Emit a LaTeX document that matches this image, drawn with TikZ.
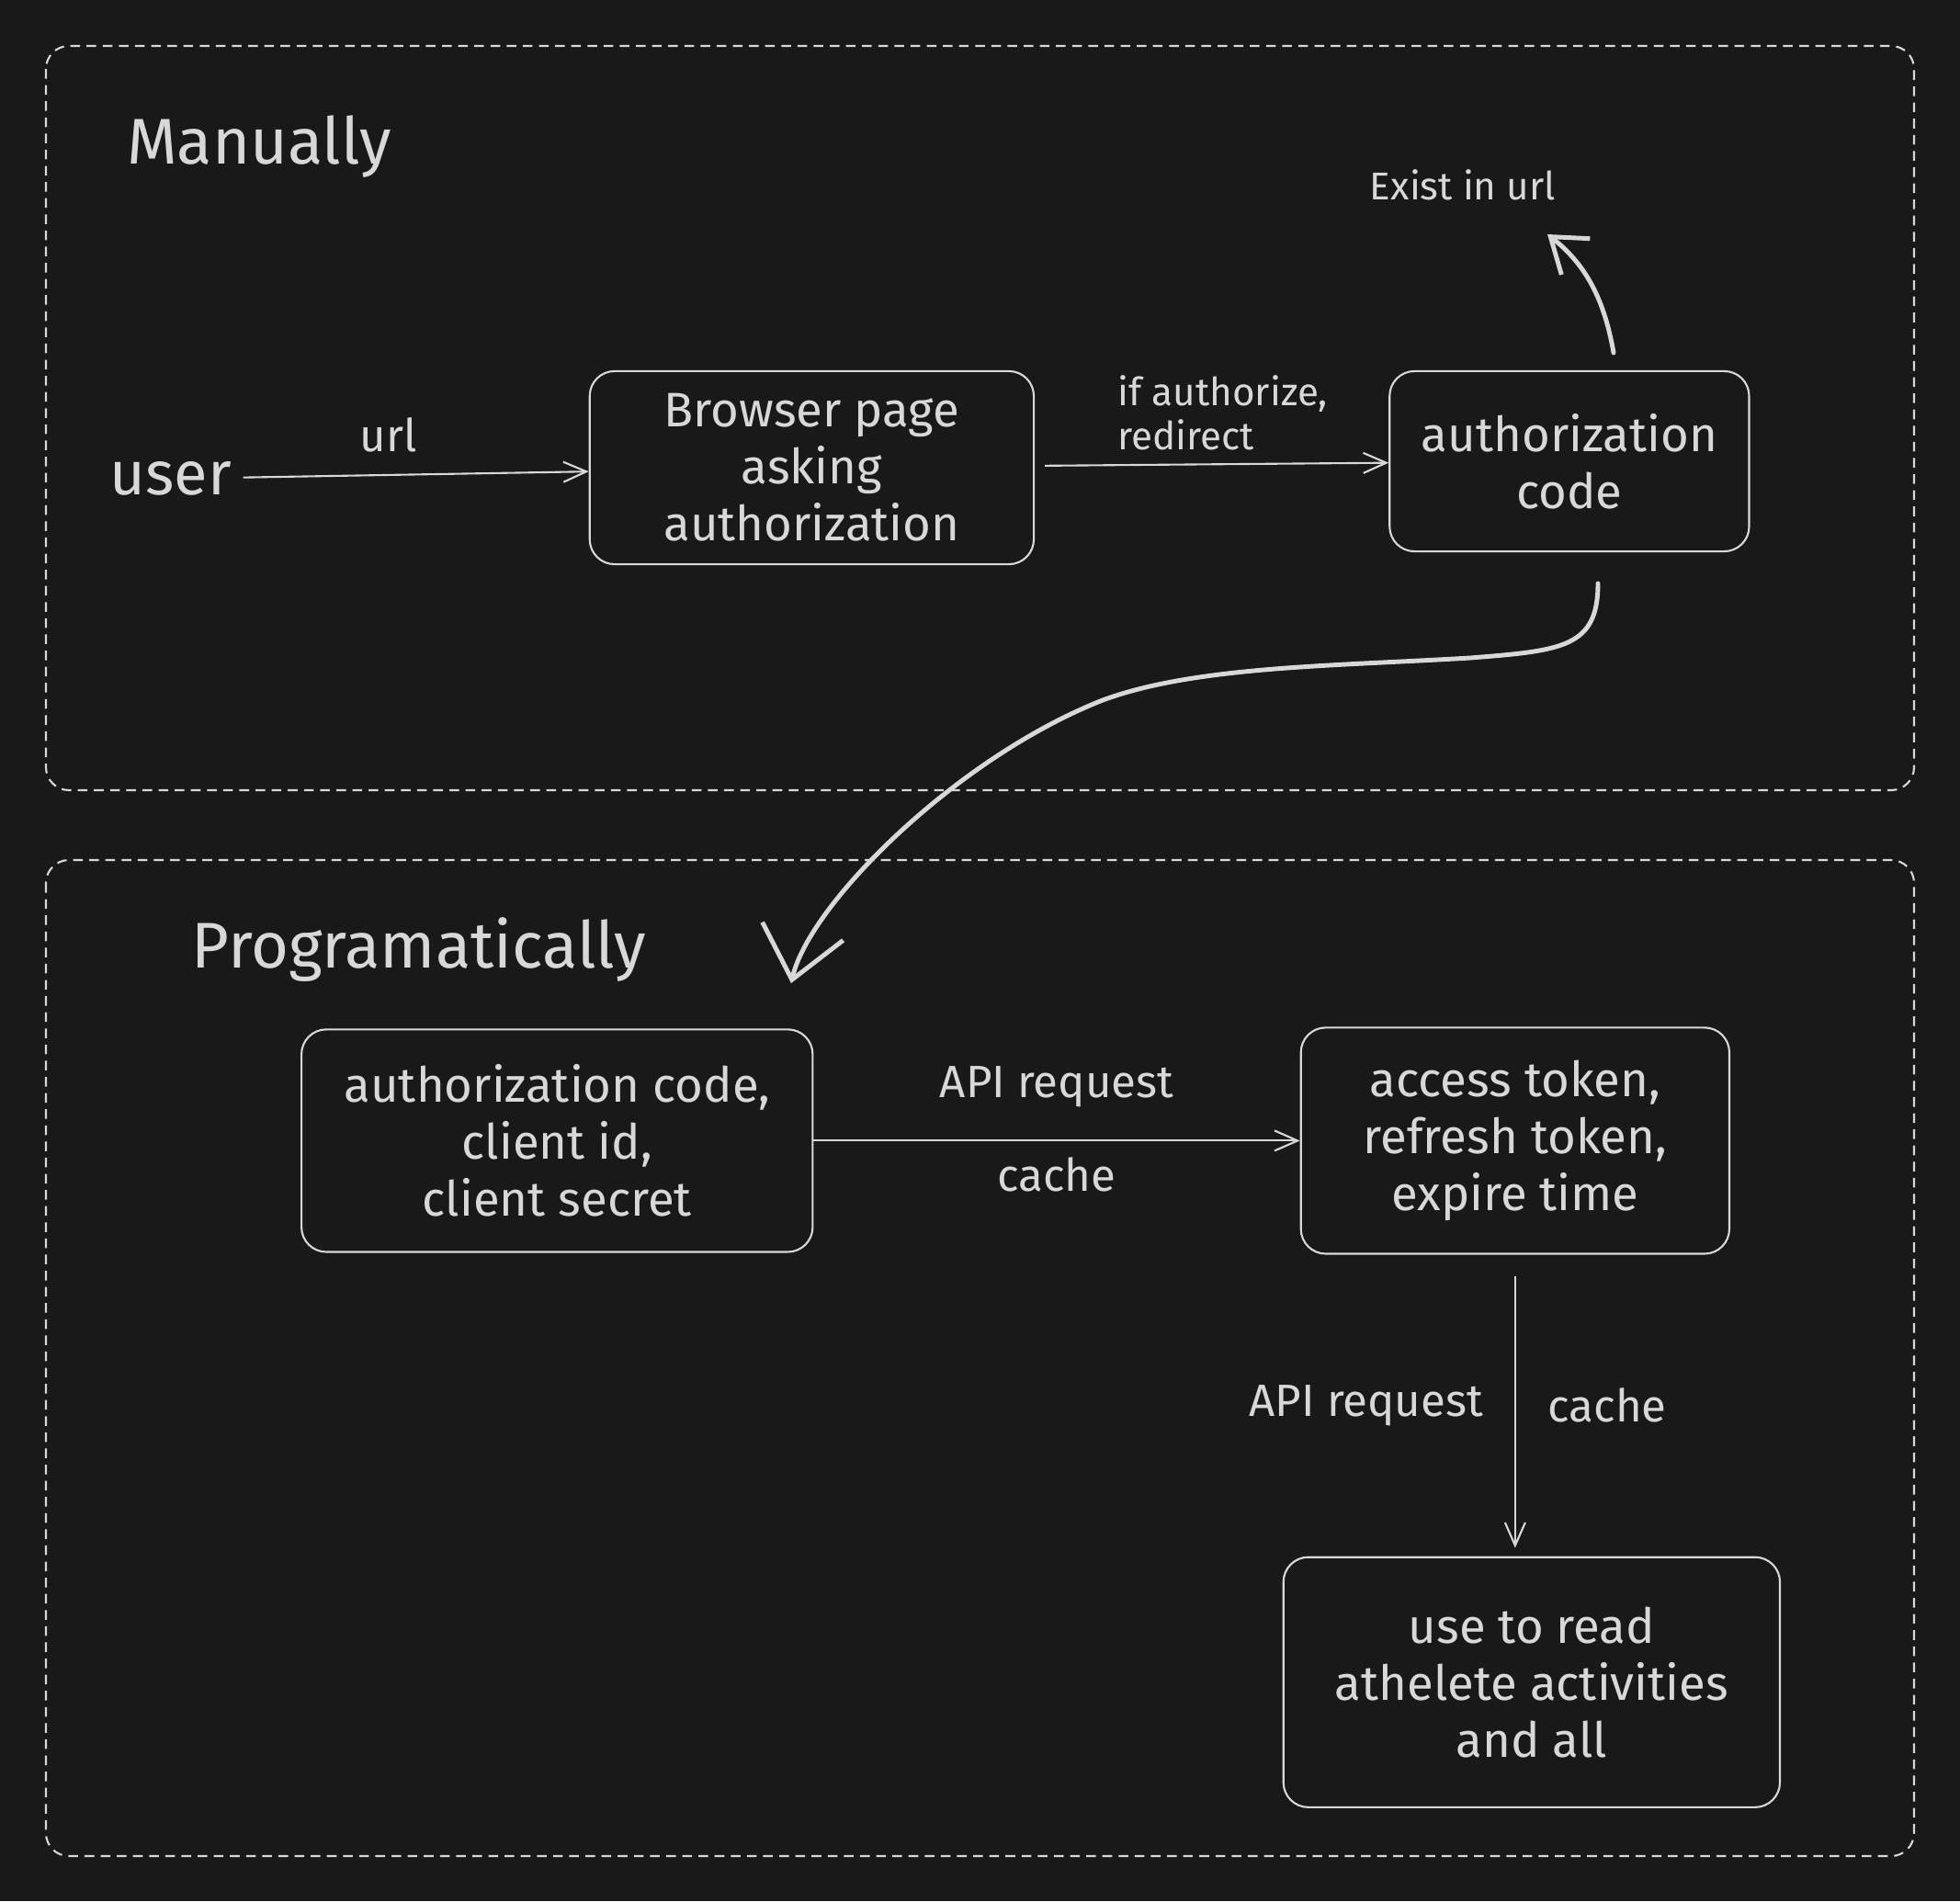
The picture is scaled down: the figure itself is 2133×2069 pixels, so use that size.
\documentclass[tikz,border=0pt]{standalone}
\usepackage{fontspec}
\setmainfont{Fira Sans}
\usepackage{tikz}
\usetikzlibrary{arrows.meta, positioning}
\definecolor{bg}{HTML}{191919}
\definecolor{fg}{HTML}{D8D8D8}

\begin{document}
\begin{tikzpicture}[x=0.01cm, y=-0.01cm, on grid,
        box/.style={draw=fg, line width=0.6pt, rounded corners=0.27cm, align=center, text=fg, inner sep=0pt, font=\fontsize{15}{17.6}\selectfont},
        lbl/.style={text=fg, font=\fontsize{14}{17.6}\selectfont},
        small/.style={text=fg, align=left, font=\fontsize{12}{13.5}\selectfont},
        title/.style={text=fg, font=\fontsize{20}{24}\selectfont},
        frame/.style={draw=fg, line width=0.6pt, dash pattern=on 3pt off 2pt, rounded corners=0.25cm},
        flow/.style={draw=fg, line width=0.6pt, -{Straight Barb[length=2.5mm, width=2.2mm]}},
        bigflow/.style={draw=fg, line width=1.4pt, line cap=round, line join=round}]
            \fill[bg] (0,0) rectangle (2133,2069);
            \draw[frame] (50,50) rectangle (2083,860);
            \draw[frame] (50,936) rectangle (2083,2020);
            \node[title] (manual) at (282,160) {Manually};
            \node[title] (prog) at (456,1034) {Programatically};
            \node[lbl, font=\fontsize{19}{23}\selectfont] (user) at (186,521) {user};
            \node[box, minimum width=4.83cm, minimum height=2.10cm] (browser) [right=6.97cm of user, yshift=0.12cm] {Browser page\\asking\\authorization};
            \node[box, minimum width=3.91cm, minimum height=1.96cm] (authcode) [right=8.24cm of browser, yshift=0.07cm] {authorization\\code};
            \node[small] (exist) at (1592,201) {Exist in url};
            \node[box, minimum width=5.56cm, minimum height=2.42cm] (creds) [below left=7.32cm and 2.77cm of browser] {authorization code,\\client id,\\client secret};
            \node[box, minimum width=4.66cm, minimum height=2.46cm] (tokens) [right=10.42cm of creds] {access token,\\refresh token,\\expire time};
            \node[box, minimum width=5.40cm, minimum height=2.72cm] (usage) [below=5.89cm of tokens, xshift=0.18cm] {use to read\\athelete activities\\and all};
            \coordinate (upstart) at (1756,384);
            \coordinate (uptip) at (1684,255);
            \coordinate (downstart) at (1739,635);
            \coordinate (downtip) at (861,1070);
            \draw[flow] (user) -- node[lbl, above=1.2mm, pos=0.42] {url} (browser);
            \draw[flow, shorten <=0.11cm] (browser) -- node[small, above=0.3mm, xshift=0.12cm] {if authorize,\\redirect} (authcode);
            \draw[bigflow, -{Straight Barb[length=3.5mm, width=5mm]}] (upstart)
                .. controls (1745,320) and (1722,285) .. (uptip);
            \draw[bigflow, -{Straight Barb[length=5.4mm, width=9mm]}] (downstart)
                .. controls (1739,705) and (1700,708) .. (1600,716)
                .. controls (1450,725) and (1300,725) .. (1200,762)
                .. controls (1040,825) and (880,985) .. (downtip);
            \draw[flow] (creds) -- node[lbl, above=2.4mm] {API request} node[lbl, below=0.5mm] {cache} (tokens);
            \draw[flow, shorten <=0.23cm, shorten >=0.09cm] (tokens.south) -- node[lbl, left=2.2mm] {API request} node[lbl, right=2.3mm] {cache} (tokens.south |- usage.north);
\end{tikzpicture}
\end{document}
